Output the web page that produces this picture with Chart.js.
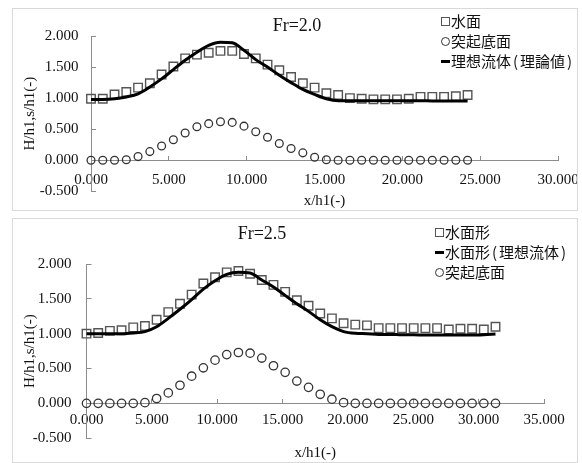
<!DOCTYPE html>
<html>
<head>
<meta charset="utf-8">
<script src="https://cdn.jsdelivr.net/npm/chart.js@4.4.0/dist/chart.umd.min.js"></script>
<style>
  body { margin: 0; width: 582px; height: 463px; position: relative; background: #fff; overflow: hidden; }
  .box { position: absolute; border: 1px solid #d9d9d9; overflow: hidden; background: #fff; }
  .box canvas { position: absolute; left: -13px; }
  .title { position: absolute; width: 120px; text-align: center; font-family: "Liberation Serif"; font-size: 18px; line-height: 20px; color: #111; }
  .legend { position: absolute; font-family: "Noto Sans CJK JP"; font-size: 15px; line-height: 20px; color: #111; white-space: nowrap; }
  .legend .pr { margin: 0 2px; }
  .mk { display: inline-block; vertical-align: middle; box-sizing: border-box; margin-right: 1px; position: relative; top: -1px; }
  .mk.rect { width: 9px; height: 9px; border: 1.3px solid #555; }
  .mk.circle { width: 9px; height: 9px; border: 1.3px solid #333; border-radius: 50%; }
  .mk.line { width: 9px; height: 3px; background: #000; }
</style>
</head>
<body>

<div class="box" style="left:12px; top:8px; width:564px; height:201px;">
  <canvas id="chartFr20" width="582" height="241" style="top:-9px;"></canvas>
</div>
<div class="title" style="left:237px; top:15px;">Fr=2.0</div>
<div class="legend" id="legendFr20" style="left:441px; top:11px;"></div>

<div class="box" style="left:12px; top:218px; width:564px; height:243px;">
  <canvas id="chartFr25" width="582" height="287" style="top:-9px;"></canvas>
</div>
<div class="title" style="left:202px; top:223px;">Fr=2.5</div>
<div class="legend" id="legendFr25" style="left:435px; top:222px;"></div>

<script>
// =========================
// Data: Fr=2.0
// =========================
const x20 = [0, 0.756, 1.512, 2.268, 3.024, 3.780, 4.536, 5.292, 6.048, 6.804, 7.560,
  8.316, 9.072, 9.828, 10.584, 11.340, 12.096, 12.852, 13.608, 14.364, 15.120,
  15.876, 16.632, 17.388, 18.144, 18.900, 19.656, 20.412, 21.168, 21.924, 22.680,
  23.436, 24.192];
const water20 = [0.99, 0.99, 1.06, 1.10, 1.17, 1.24, 1.38, 1.51, 1.64, 1.70, 1.73,
  1.76, 1.76, 1.71, 1.64, 1.54, 1.45, 1.34, 1.24, 1.17, 1.08,
  1.05, 1.00, 0.99, 0.98, 0.98, 0.98, 0.99, 1.02, 1.02, 1.02,
  1.03, 1.05];
const bed20 = [0, 0, 0, 0.01, 0.06, 0.14, 0.23, 0.33, 0.44, 0.54, 0.59,
  0.62, 0.61, 0.55, 0.46, 0.37, 0.27, 0.19, 0.12, 0.05, 0.01,
  0, 0, 0, 0, 0, 0, 0, 0, 0, 0,
  0, 0];
const ideal20 = [0.98, 0.98, 0.99, 1.02, 1.07, 1.18, 1.31, 1.46, 1.61, 1.74, 1.85,
  1.90, 1.89, 1.77, 1.62, 1.50, 1.37, 1.25, 1.14, 1.06, 0.99,
  0.96, 0.96, 0.96, 0.96, 0.96, 0.96, 0.96, 0.96, 0.955, 0.955,
  0.955, 0.955];

// =========================
// Data: Fr=2.5
// =========================
const x25 = [0, 0.894, 1.788, 2.682, 3.576, 4.470, 5.364, 6.258, 7.152, 8.046, 8.940,
  9.834, 10.728, 11.622, 12.516, 13.410, 14.304, 15.198, 16.092, 16.986, 17.880,
  18.774, 19.668, 20.562, 21.456, 22.350, 23.244, 24.138, 25.032, 25.926, 26.820,
  27.714, 28.608, 29.502, 30.396, 31.290];
const water25 = [1.00, 1.01, 1.04, 1.05, 1.09, 1.11, 1.20, 1.31, 1.43, 1.56, 1.72,
  1.81, 1.88, 1.90, 1.86, 1.77, 1.70, 1.60, 1.48, 1.40, 1.29,
  1.22, 1.15, 1.13, 1.12, 1.08, 1.08, 1.08, 1.08, 1.08, 1.08,
  1.06, 1.07, 1.07, 1.06, 1.10];
const ideal25 = [1.00, 1.00, 1.00, 1.00, 1.01, 1.03, 1.10, 1.22, 1.35, 1.49, 1.64,
  1.76, 1.85, 1.88, 1.87, 1.77, 1.67, 1.55, 1.43, 1.32, 1.20,
  1.10, 1.03, 1.005, 1.00, 0.99, 0.99, 0.985, 0.985, 0.98, 0.98,
  0.98, 0.98, 0.98, 0.985, 0.995];
const bed25 = [0, 0, 0, 0, 0, 0.01, 0.07, 0.15, 0.26, 0.39, 0.51,
  0.62, 0.70, 0.73, 0.72, 0.65, 0.54, 0.445, 0.32, 0.23, 0.13,
  0.06, 0.01, 0, 0, 0, 0, 0, 0, 0, 0,
  0, 0, 0, 0, 0];

// axis ranges / titles
const yMin = -0.5, yMax = 2.0, yStep = 0.5;
const xStep = 5;
const xMax20 = 30, xMax25 = 35;
const xTitle = 'x/h1(-)';
const yTitle = 'H/h1,s/h1(-)';

const TXT = '#111';
const AX = '#8c8c8c';
const SERIF = 'Liberation Serif';

function pts(xs, ys) {
    return xs.map((x, i) => ({ x: x, y: ys[i] }));
}

function squares(label, xs, ys, order) {
    return { label: label, data: pts(xs, ys), showLine: false, pointStyle: 'rect',
        pointRadius: 6, pointHoverRadius: 6, borderColor: '#555', borderWidth: 1.4,
        backgroundColor: 'rgba(0,0,0,0)', order: order, clip: false };
}

function circles(label, xs, ys, order, r) {
    return { label: label, data: pts(xs, ys), showLine: false, pointStyle: 'circle',
        pointRadius: r, pointHoverRadius: r, borderColor: '#333', borderWidth: 1.3,
        backgroundColor: 'rgba(0,0,0,0)', order: order, clip: false };
}

function curve(label, xs, ys, order) {
    return { label: label, data: pts(xs, ys), showLine: true, pointRadius: 0,
        borderColor: '#000', borderWidth: 3, cubicInterpolationMode: 'monotone',
        order: order, clip: false };
}

// c: layout numbers for one panel (canvas px)
function makeChart(canvasId, legendId, datasets, c) {
    let ctx = document.getElementById(canvasId).getContext('2d');
    let chart = new Chart(ctx, {
        type: 'scatter',
        data: { datasets: datasets },
        options: {
            responsive: false,
            animation: false,
            layout: { padding: { top: c.top, right: c.right, bottom: c.bottom, left: 0 } },
            plugins: { legend: { display: false }, tooltip: { enabled: false } },
            scales: {
                x: {
                    type: 'linear', min: 0, max: c.xMax, position: { y: 0 },
                    ticks: { stepSize: xStep, padding: c.xPad, color: TXT, maxRotation: 0, autoSkip: false,
                        font: { family: SERIF, size: 15 }, callback: v => v.toFixed(3) },
                    grid: { drawOnChartArea: false, drawTicks: true, tickLength: -5, color: AX },
                    border: { color: AX, width: 1 },
                    title: { display: true, text: xTitle, color: TXT, font: { family: SERIF, size: 15 },
                        padding: { top: 0, bottom: 0 } },
                    afterFit: s => { s.height = c.xH; s.paddingLeft = 0; s.paddingRight = 0; }
                },
                y: {
                    type: 'linear', min: yMin, max: yMax, position: 'left',
                    ticks: { stepSize: yStep, padding: c.yPad, color: TXT,
                        font: { family: SERIF, size: 15 }, callback: v => v.toFixed(3) },
                    grid: { drawOnChartArea: false, drawTicks: true, tickLength: -5, color: AX },
                    border: { color: AX, width: 1 },
                    title: { display: true, text: yTitle, color: TXT, font: { family: SERIF, size: 15 },
                        padding: { top: 21, bottom: 0 } },
                    afterFit: s => { s.width = c.yW; s.paddingTop = 0; s.paddingBottom = 0; }
                }
            }
        }
    });

    // html legend, built from the datasets
    let box = document.getElementById(legendId);
    chart.data.datasets.forEach(ds => {
        let row = document.createElement('div');
        let mk = document.createElement('span');
        mk.className = 'mk ' + (ds.showLine ? 'line' : ds.pointStyle);
        row.appendChild(mk);
        ds.label.split(/([()])/).forEach(part => {
            if (part === '(' || part === ')') {
                let p = document.createElement('span');
                p.className = 'pr';
                p.textContent = part;
                row.appendChild(p);
            } else if (part) {
                row.appendChild(document.createTextNode(part));
            }
        });
        box.appendChild(row);
    });
    return chart;
}

makeChart('chartFr20', 'legendFr20', [
    squares('水面', x20, water20, 2),
    circles('突起底面', x20, bed20, 1, 3.9),
    curve('理想流体(理論値)', x20, ideal20, 0)
], { xMax: xMax20, top: 36, right: 24, bottom: 49.6, yW: 91, xH: 50, xPad: 16, yPad: 17.5 });

makeChart('chartFr25', 'legendFr25', [
    squares('水面形', x25, water25, 2),
    curve('水面形(理想流体)', x25, ideal25, 0),
    circles('突起底面', x25, bed25, 1, 4.2)
], { xMax: xMax25, top: 54, right: 38, bottom: 58.8, yW: 86.5, xH: 58.7, xPad: 13, yPad: 20 });
</script>
</body>
</html>
